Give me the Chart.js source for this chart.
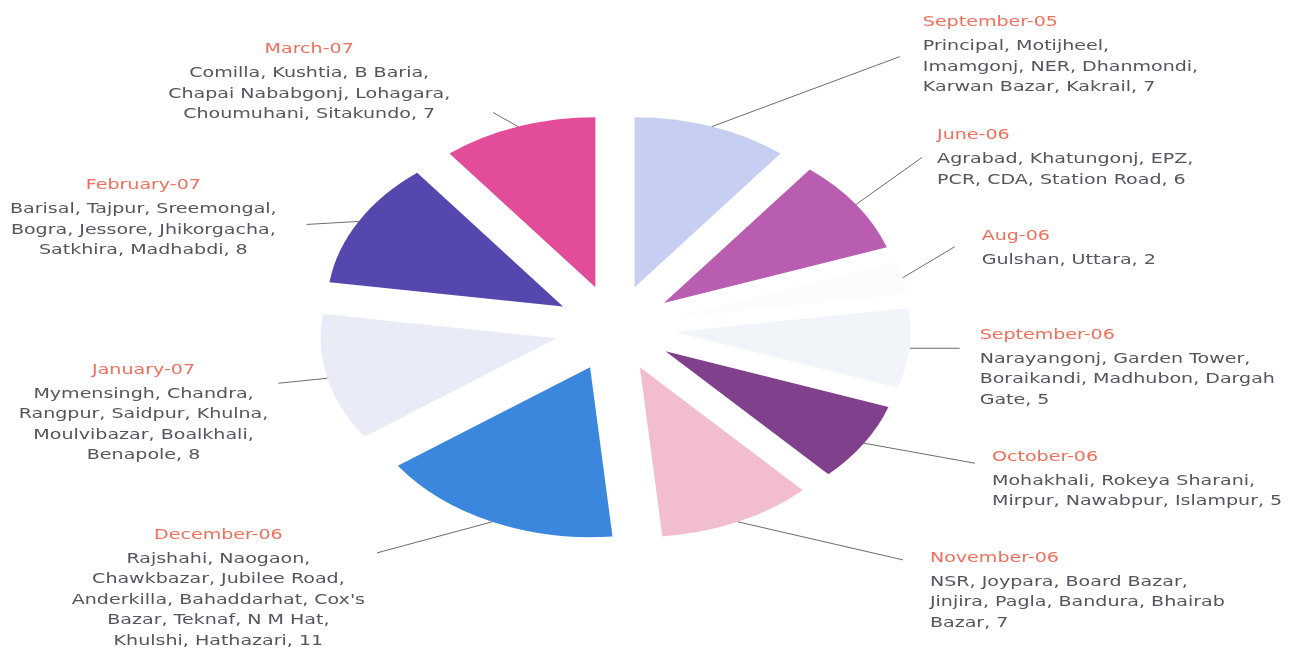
<!DOCTYPE html>
<html>
<head>
<meta charset="utf-8">
<title>Branch openings by month</title>
<script src="https://cdn.jsdelivr.net/npm/chart.js@4.4.1/dist/chart.umd.min.js"></script>
<style>
  html, body { margin: 0; padding: 0; background: #fff; }
  #wrap { width: 1295px; height: 656px; }
</style>
</head>
<body>
<div id="wrap"><canvas id="branchChart" width="1295" height="656"></canvas></div>
<script>
const months = ['September-05', 'June-06', 'Aug-06', 'September-06', 'October-06',
  'November-06', 'December-06', 'January-07', 'February-07', 'March-07'];

const branchCounts = [7, 6, 2, 5, 5, 7, 11, 8, 8, 7];

const branchNames = [
  ['Principal, Motijheel,', 'Imamgonj, NER, Dhanmondi,', 'Karwan Bazar, Kakrail'],
  ['Agrabad, Khatungonj, EPZ,', 'PCR, CDA, Station Road'],
  ['Gulshan, Uttara'],
  ['Narayangonj, Garden Tower,', 'Boraikandi, Madhubon, Dargah', 'Gate'],
  ['Mohakhali, Rokeya Sharani,', 'Mirpur, Nawabpur, Islampur'],
  ['NSR, Joypara, Board Bazar,', 'Jinjira, Pagla, Bandura, Bhairab', 'Bazar'],
  ['Rajshahi, Naogaon,', 'Chawkbazar, Jubilee Road,', "Anderkilla, Bahaddarhat, Cox's", 'Bazar, Teknaf, N M Hat,', 'Khulshi, Hathazari'],
  ['Mymensingh, Chandra,', 'Rangpur, Saidpur, Khulna,', 'Moulvibazar, Boalkhali,', 'Benapole'],
  ['Barisal, Tajpur, Sreemongal,', 'Bogra, Jessore, Jhikorgacha,', 'Satkhira, Madhabdi'],
  ['Comilla, Kushtia, B Baria,', 'Chapai Nababgonj, Lohagara,', 'Choumuhani, Sitakundo']
];

const sliceColors = ['#c6cef2', '#b95db1', '#fbfcfe', '#f1f5fa', '#80408c',
  '#f2bdcc', '#3a87dd', '#e9ecf7', '#5447ae', '#e24c99'];

// leader line end [dx, dy] from the slice edge, text block [tx, ty] from the line end
const labelPlacement = [
  [188, -70, 23, -34],
  [66, -47, 15, -22],
  [52, -31, 27, -10],
  [50, 0, 20, -13],
  [111, 20, 17, -6],
  [165, 38, 27, -2],
  [-115, 31, -12, -18],
  [-49, 5, -10, -13],
  [-52, 3, -30, -39],
  [-25, -14, -43, -63]
];

const PIE_RADIUS = 236;
const EXPLODE = 60;
const SQUASH = 0.72;
const TEXT_STRETCH = 1.36;
const FONT = '14px "DejaVu Sans", Verdana, sans-serif';

// draws every slice pushed out from the centre, on a flattened pie
const explodedPie = {
  id: 'explodedPie',
  beforeDatasetDraw(chart, args) {
    const ctx = chart.ctx;
    const arcs = args.meta.data;
    const cy = arcs[0].y;
    ctx.save();
    ctx.translate(0, cy);
    ctx.scale(1, SQUASH);
    ctx.translate(0, -cy);
    arcs.forEach(arc => {
      const mid = (arc.startAngle + arc.endAngle) / 2;
      ctx.save();
      ctx.translate(Math.cos(mid) * EXPLODE, Math.sin(mid) * EXPLODE);
      arc.draw(ctx);
      ctx.restore();
    });
    ctx.restore();
    return false;
  }
};

function stretchedText(ctx, text, x, y, align) {
  ctx.save();
  ctx.translate(x, y);
  ctx.scale(TEXT_STRETCH, 1);
  ctx.textAlign = align;
  ctx.fillText(text, 0, 0);
  ctx.restore();
}

// month title, branch list and count beside each slice
const sliceLabels = {
  id: 'sliceLabels',
  afterDatasetsDraw(chart) {
    const ctx = chart.ctx;
    const meta = chart.getDatasetMeta(0);
    ctx.save();
    ctx.font = FONT;
    ctx.textBaseline = 'middle';
    meta.data.forEach((arc, i) => {
      const mid = (arc.startAngle + arc.endAngle) / 2;
      const r = EXPLODE + arc.outerRadius;
      const ax = arc.x + Math.cos(mid) * r;
      const ay = arc.y + Math.sin(mid) * r * SQUASH;
      const [dx, dy, tx, ty] = labelPlacement[i];
      const ex = ax + dx;
      const ey = ay + dy;

      ctx.strokeStyle = '#6b6b6b';
      ctx.lineWidth = 1;
      ctx.beginPath();
      ctx.moveTo(ax, ay);
      ctx.lineTo(ex, ey);
      ctx.stroke();

      const lines = branchNames[i].slice();
      lines[lines.length - 1] += ', ' + branchCounts[i];
      const title = months[i];
      const rightSide = dx > 0;

      let x, align;
      if (rightSide) {
        x = ex + tx;
        align = 'left';
      } else {
        const widest = Math.max(ctx.measureText(title).width,
          ...lines.map(l => ctx.measureText(l).width)) * TEXT_STRETCH;
        x = ex + tx - widest / 2;
        align = 'center';
      }

      let y = ey + ty;
      ctx.fillStyle = '#ef6f5c';
      stretchedText(ctx, title, x, y, align);
      y += 24;
      ctx.fillStyle = '#55555f';
      lines.forEach(line => {
        stretchedText(ctx, line, x, y, align);
        y += 20.5;
      });
    });
    ctx.restore();
  }
};

new Chart(document.getElementById('branchChart'), {
  type: 'pie',
  data: {
    labels: months,
    datasets: [{
      data: branchCounts,
      backgroundColor: sliceColors,
      borderWidth: 0,
      radius: PIE_RADIUS,
      hoverOffset: 0
    }]
  },
  options: {
    responsive: false,
    animation: false,
    events: [],
    layout: { padding: { left: 0, right: 65, top: 0, bottom: 0 } },
    plugins: {
      legend: { display: false },
      tooltip: { enabled: false }
    }
  },
  plugins: [explodedPie, sliceLabels]
});
</script>
</body>
</html>
